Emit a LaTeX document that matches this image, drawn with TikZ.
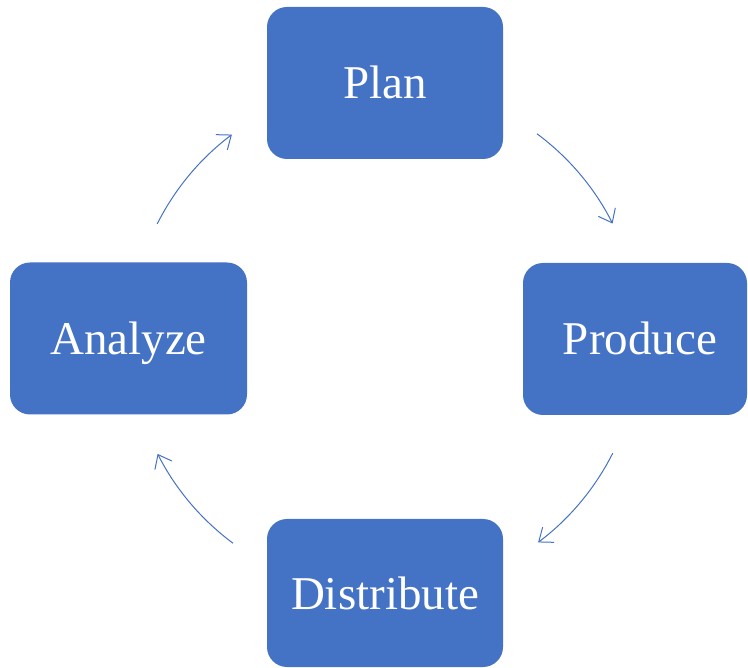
\documentclass[tikz,border=0pt]{standalone}
\usepackage{fontspec}
\setmainfont{Liberation Serif}
\usetikzlibrary{arrows.meta}
\definecolor{boxblue}{HTML}{4472C4}
\begin{document}
\begin{tikzpicture}[x=1pt,y=-1pt,
  stage/.style={fill=boxblue, draw=none, rounded corners=20pt, text=white,
    minimum width=236pt, minimum height=152pt, inner sep=0pt,
    text height=32pt, text depth=0pt,
    font=\fontsize{47}{56}\selectfont},
  cyc/.style={draw=boxblue, line width=1pt, -{Straight Barb[length=12pt,width=19pt,line width=1pt]}}]
\useasboundingbox (0,0) rectangle (748,668);
\node[stage] (plan) at (385,83) {Plan};
\node[stage, minimum width=224pt] (produce) at (635,339) {\hspace*{10pt}Produce};
\node[stage, minimum height=148pt] (distribute) at (385,593) {Distribute};
\node[stage, minimum width=237pt] (analyze) at (128.5,338.5) {Analyze};
\coordinate (c) at (385,338.5);
\draw[cyc] (c) ++(53.4:255 and -255) arc[start angle=53.4, end angle=26.8, x radius=255, y radius=-255];
\draw[cyc] (c) ++(-26.7:255 and -255) arc[start angle=-26.7, end angle=-53.1, x radius=255, y radius=-255];
\draw[cyc] (c) ++(233.4:255 and -255) arc[start angle=233.4, end angle=206.9, x radius=255, y radius=-255];
\draw[cyc] (c) ++(153.3:255 and -255) arc[start angle=153.3, end angle=126.9, x radius=255, y radius=-255];
\end{tikzpicture}
\end{document}
